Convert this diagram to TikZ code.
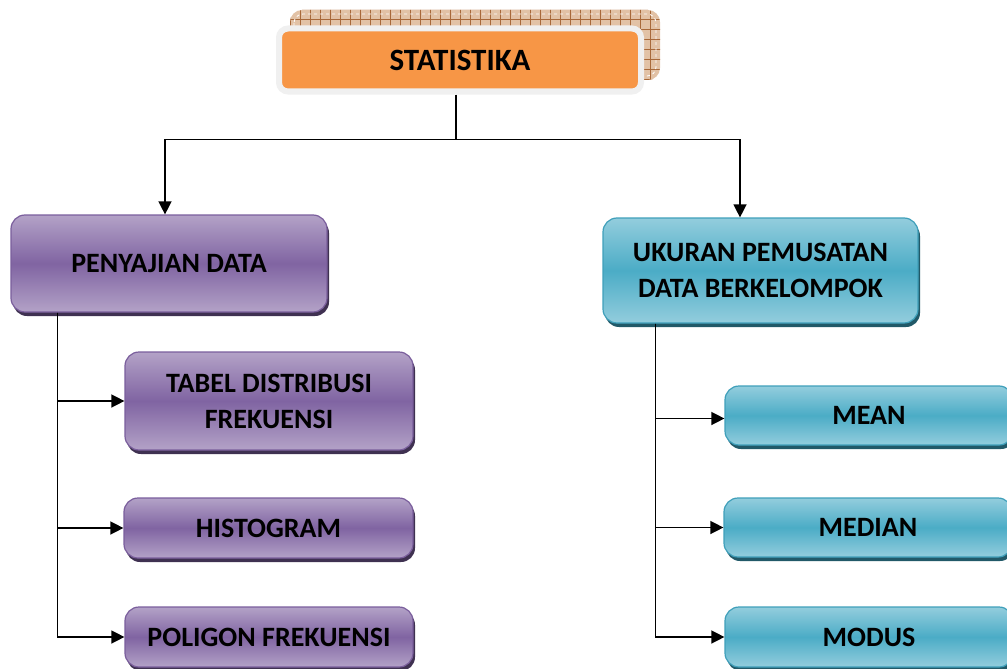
\documentclass[tikz,border=0pt]{standalone}
\usepackage{fontspec}
\setmainfont{Carlito}
\usetikzlibrary{arrows.meta,shadows,patterns.meta,calc}
\definecolor{orangefill}{HTML}{F79646}
\definecolor{framegray}{HTML}{F0F0F0}
\definecolor{hatchbg}{HTML}{E2C2A6}
\definecolor{hatchline}{HTML}{A8693A}
\definecolor{purplelight}{HTML}{B3A2C7}
\definecolor{purplemid}{HTML}{8064A2}
\definecolor{purpleborder}{HTML}{7A5E9C}
\definecolor{purpleshadow}{HTML}{3F3151}
\definecolor{teallight}{HTML}{93CDDD}
\definecolor{tealmid}{HTML}{4BACC6}
\definecolor{tealborder}{HTML}{3F9FBA}
\definecolor{tealshadow}{HTML}{215968}
\tikzset{
  box/.style={rounded corners=14pt, line width=1.2pt, align=center,
    font=\fontsize{28}{36}\selectfont\bfseries, inner sep=0pt},
  purplebox/.style={box, draw=purpleborder, top color=purplelight, bottom color=purplelight, middle color=purplemid,
    drop shadow={shadow xshift=2pt, shadow yshift=-4pt, fill=purpleshadow, opacity=1}},
  tealbox/.style={box, draw=tealborder, top color=teallight, bottom color=teallight, middle color=tealmid,
    drop shadow={shadow xshift=2pt, shadow yshift=-4pt, fill=tealshadow, opacity=1}},
  conn/.style={line width=1.4pt, -{Triangle[length=13pt,width=13pt]}},
  plain/.style={line width=1.4pt}
}
\begin{document}
\begin{tikzpicture}[x=1pt,y=-1pt]
\useasboundingbox (0,0) rectangle (1007,669);
\clip (0,0) rectangle (1007,669);
% hatched back plate
\fill[hatchbg, rounded corners=12pt] (290,10) rectangle (660,80);
\fill[pattern={Lines[distance=10pt,angle=0,line width=0.7pt]}, pattern color=hatchline, rounded corners=12pt] (290,10) rectangle (660,80);
\fill[pattern={Lines[distance=10pt,angle=90,line width=0.7pt]}, pattern color=hatchline, rounded corners=12pt] (290,10) rectangle (660,80);
\draw[white, dashed, line width=0.8pt, rounded corners=9pt] (294,14) rectangle (656,76);
% main title
\node[draw=framegray, line width=6pt, fill=orangefill, rounded corners=9pt, minimum width=362pt, minimum height=63pt,
  font=\fontsize{31}{36}\selectfont\bfseries] (stat) at (460,60) {STATISTIKA};
% level 2
\node[purplebox, minimum width=316pt, minimum height=97pt] (pen) at (169,263.5) {PENYAJIAN DATA};
\node[tealbox, minimum width=315pt, minimum height=105pt] (uk) at (760.5,270.5) {UKURAN PEMUSATAN\\DATA BERKELOMPOK};
% level 3 left
\node[purplebox, minimum width=288pt, minimum height=98pt] (tab) at (269,401) {TABEL DISTRIBUSI\\FREKUENSI};
\node[purplebox, minimum width=289pt, minimum height=60pt] (his) at (268.5,528) {HISTOGRAM};
\node[purplebox, minimum width=288pt, minimum height=60pt] (pol) at (269,637) {POLIGON FREKUENSI};
% level 3 right
\node[tealbox, minimum width=288pt, minimum height=59pt] (mean) at (869,415.5) {MEAN};
\node[tealbox, minimum width=288pt, minimum height=59pt] (med) at (868,527.5) {MEDIAN};
\node[tealbox, minimum width=288pt, minimum height=60pt] (mod) at (869,637) {MODUS};
% connectors from title
\draw[plain] ([xshift=-4pt]stat.south) -- ++(0,45) coordinate (j);
\draw[conn] (j) -| ([xshift=-4pt]pen.north);
\draw[conn] (j) -| ([xshift=-20.5pt]uk.north);
% left trunk
\coordinate (lt) at ([xshift=47pt]pen.south west);
\draw[conn] (lt) |- (tab.west);
\draw[conn] (lt) |- (his.west);
\draw[conn] (lt) |- (pol.west);
% right trunk
\coordinate (rt) at ([xshift=53pt]uk.south west);
\draw[conn] (rt) |- ([yshift=-3pt]mean.west);
\draw[conn] (rt) |- (med.west);
\draw[conn] (rt) |- (mod.west);
\end{tikzpicture}
\end{document}
